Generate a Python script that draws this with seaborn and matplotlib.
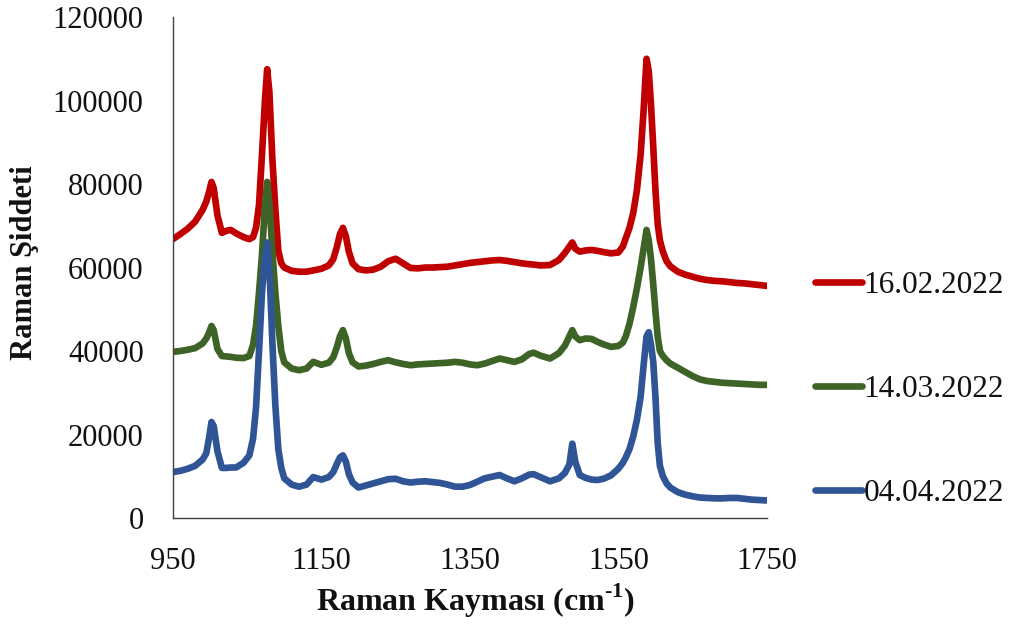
import numpy as np
import pandas as pd
import matplotlib
matplotlib.use("Agg")
import matplotlib.pyplot as plt
import seaborn as sns

# Raman shift axis (cm-1), shared by all three spectra
shift = [
    950, 960, 970, 980, 990, 995, 999, 1002, 1005, 1010,
    1016, 1022, 1028, 1035, 1045, 1053, 1058, 1062, 1066, 1070,
    1074, 1077, 1080, 1084, 1088, 1092, 1096, 1100, 1110, 1120,
    1130, 1139, 1150, 1160, 1166, 1171, 1175, 1179, 1183, 1187,
    1192, 1200, 1210, 1220, 1230, 1240, 1250, 1260, 1270, 1280,
    1290, 1300, 1310, 1320, 1330, 1340, 1350, 1360, 1370, 1380,
    1390, 1400, 1410, 1420, 1430, 1436, 1445, 1458, 1470, 1478,
    1484, 1488, 1492, 1498, 1506, 1514, 1522, 1530, 1540, 1550,
    1556, 1560, 1565, 1570, 1575, 1580, 1584, 1588, 1591, 1594,
    1597, 1600, 1603, 1606, 1610, 1615, 1620, 1630, 1640, 1650,
    1660, 1670, 1680, 1690, 1700, 1710, 1720, 1730, 1740, 1750,
]

# Intensities for the sample measured on 16.02.2022
int_16_02 = [
    66800, 68000, 69300, 71000, 73800, 75800, 78300, 80500, 79000, 72500,
    68300, 68800, 69000, 68200, 67300, 66800, 67300, 69500, 75000, 87000,
    100000, 107500, 102000, 86000, 74000, 64000, 61000, 60000, 59200, 59000,
    59000, 59300, 59700, 60500, 62000, 65000, 68000, 69500, 67500, 63800,
    61000, 59600, 59300, 59500, 60200, 61500, 62100, 61000, 59900, 59800,
    60000, 60000, 60100, 60200, 60500, 60800, 61100, 61300, 61500, 61700,
    61800, 61600, 61300, 61000, 60800, 60700, 60500, 60600, 61800, 63500,
    65000, 66000, 64500, 63800, 64100, 64200, 64000, 63700, 63400, 63600,
    65000, 67000, 69500, 73000, 78500, 87000, 97500, 110000, 107000, 99000,
    89000, 78500, 70500, 66500, 63800, 61500, 60300, 59000, 58300, 57800,
    57300, 57000, 56800, 56700, 56500, 56300, 56200, 56000, 55800, 55600,
]

# Intensities for the sample measured on 14.03.2022
int_14_03 = [
    39800, 40000, 40300, 40700, 41800, 43000, 44500, 46000, 45000, 40500,
    38800, 38700, 38600, 38400, 38300, 38800, 41500, 46000, 54000, 63000,
    75000, 80500, 75500, 64000, 54000, 46000, 40000, 37300, 35800, 35400,
    35800, 37400, 36700, 37200, 38500, 41000, 43500, 45000, 43000, 39500,
    37300, 36300, 36500, 36900, 37400, 37800, 37300, 36900, 36600, 36800,
    36900, 37000, 37100, 37200, 37400, 37200, 36800, 36600, 37000, 37600,
    38200, 37800, 37400, 38000, 39300, 39600, 38900, 38200, 39500, 41300,
    43500, 45000, 43500, 42600, 43000, 42900, 42200, 41600, 41000, 41200,
    42000, 43500, 46500, 50500, 55000, 60000, 64500, 69000, 66500, 62000,
    56000, 49500, 43500, 40000, 38800, 37800, 37000, 36000, 35000, 34000,
    33200, 32800, 32600, 32400, 32300, 32200, 32100, 32000, 31900, 31900,
]

# Intensities for the sample measured on 04.04.2022
int_04_04 = [
    11000, 11300, 11800, 12500, 14000, 15500, 19500, 23000, 22000, 16000,
    12000, 12000, 12100, 12100, 13200, 15000, 19000, 26500, 40000, 54000,
    63000, 66000, 60000, 42000, 27000, 16500, 12000, 9500, 8000, 7500,
    8000, 9800, 9200, 9800, 11000, 13000, 14500, 15000, 13500, 10500,
    8500, 7300, 7800, 8300, 8800, 9300, 9400, 8800, 8500, 8700,
    8800, 8600, 8400, 8000, 7500, 7500, 7900, 8700, 9500, 9900,
    10300, 9500, 8800, 9500, 10400, 10500, 9800, 8800, 9500, 10800,
    12800, 17800, 13500, 10300, 9600, 9200, 9100, 9400, 10200, 11800,
    13200, 14500, 16500, 19500, 23500, 29000, 36500, 43500, 44500, 41500,
    37500, 29000, 18000, 12500, 10000, 8300, 7300, 6200, 5600, 5200,
    4900, 4800, 4700, 4700, 4800, 4800, 4600, 4400, 4300, 4200,
]

dates = ["16.02.2022", "14.03.2022", "04.04.2022"]
colors = ["#C00000", "#3D6327", "#2F5597"]

x_ticks = list(range(950, 1751, 50))
x_labels = [950, 1150, 1350, 1550, 1750]
y_ticks = [0, 20000, 40000, 60000, 80000, 100000, 120000]

frames = []
for d, vals in zip(dates, [int_16_02, int_14_03, int_04_04]):
    frames.append(pd.DataFrame({"shift": shift, "intensity": vals, "date": d}))
df = pd.concat(frames, ignore_index=True)

sns.set_theme(style="white")
plt.rcParams["font.family"] = ["Liberation Serif", "DejaVu Serif"]
plt.rcParams["mathtext.fontset"] = "custom"
plt.rcParams["mathtext.rm"] = "Liberation Serif"
plt.rcParams["mathtext.bf"] = "Liberation Serif:bold"

fig = plt.figure(figsize=(10.17, 6.26), dpi=100, facecolor="white")
ax = fig.add_axes([0.170, 0.1725, 0.584, 0.8003])

sns.lineplot(
    data=df, x="shift", y="intensity", hue="date",
    hue_order=dates, palette=colors, estimator=None, sort=False,
    linewidth=4.8, ax=ax, legend=True,
)
for line in ax.get_lines():
    line.set_solid_joinstyle("round")
    line.set_solid_capstyle("round")

ax.set_xlim(950, 1750)
ax.set_ylim(0, 120000)
ax.set_xticks(x_ticks)
ax.set_xticklabels([str(t) if t in x_labels else "" for t in x_ticks])
ax.set_yticks(y_ticks)
ax.set_yticklabels([str(t) for t in y_ticks])

for side in ["top", "right"]:
    ax.spines[side].set_visible(False)
for side in ["left", "bottom"]:
    ax.spines[side].set_color("#404040")
    ax.spines[side].set_linewidth(1.0)

ax.tick_params(axis="x", direction="out", length=7, width=1, color="#404040",
               labelsize=22, pad=14, labelcolor="#111111")
ax.tick_params(axis="y", direction="out", length=7, width=1, color="#404040",
               labelsize=22, pad=14, labelcolor="#111111")

ax.set_xlabel("Raman Kayması (cm$^{\\mathbf{‐1}}$)", fontsize=23,
              fontweight="bold", color="#111111")
ax.set_ylabel("Raman Şiddeti", fontsize=22, fontweight="bold",
              color="#111111")
ax.xaxis.set_label_coords(0.51, -0.128)
ax.yaxis.set_label_coords(-0.225, 0.51)

handles, labels = ax.get_legend_handles_labels()
ax.get_legend().remove()
leg = fig.legend(
    handles, labels, loc="center left", bbox_to_anchor=(0.786, 0.378),
    frameon=False, fontsize=22.5, handlelength=1.5, handletextpad=0.05,
    labelspacing=2.4, borderpad=0, labelcolor="#111111",
)
for h in leg.get_lines():
    h.set_linewidth(4.8)
    h.set_solid_capstyle("round")

fig.savefig("out.png", dpi=100, facecolor="white")
